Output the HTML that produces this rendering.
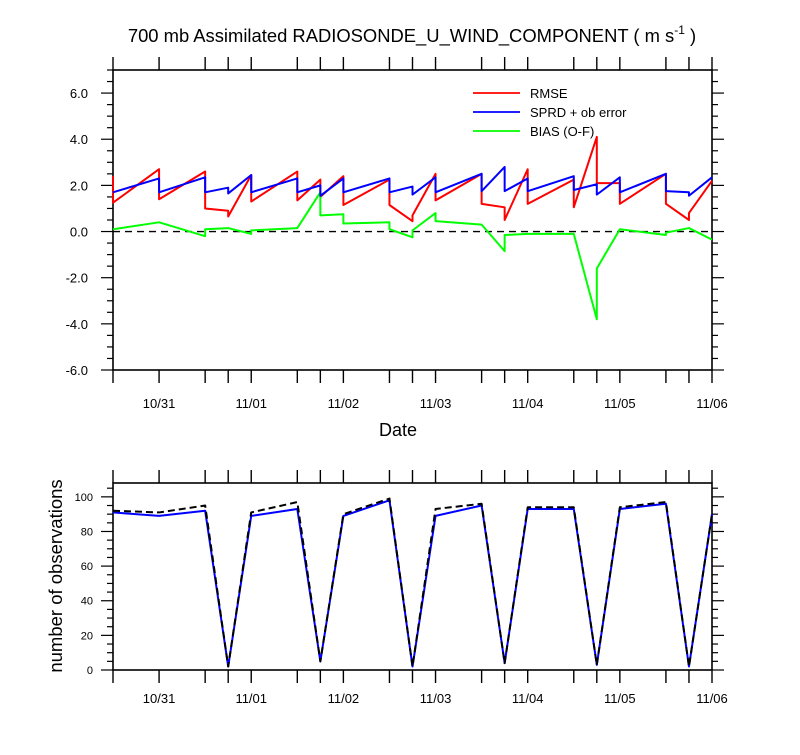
<!DOCTYPE html>
<html><head><meta charset="utf-8"><style>
body{margin:0;background:#fff}
svg text{font-family:"Liberation Sans",sans-serif;fill:#000}
</style></head><body>
<svg id="c" width="800" height="750" xmlns="http://www.w3.org/2000/svg"></svg>
<script>
// time points in hours since 10/30 12Z
const hours=[0,12,24,30,36,48,54,60,72,78,84,96,102,108,120,126,132,144,150,156];
const dateLabels=["10/31","11/01","11/02","11/03","11/04","11/05","11/06"];
const dateHours=[12,36,60,84,108,132,156];
const rmseArr=[2.4,2.7,2.6,0.9,2.45,2.6,2.25,2.4,2.25,0.45,2.5,2.5,1.05,2.7,2.25,4.1,2.1,2.5,0.5,2.2];
const rmseDep=[1.25,1.4,1.0,0.65,1.3,1.35,1.5,1.15,1.15,0.7,1.35,1.2,0.5,1.2,1.05,2.1,1.2,1.2,0.8,2.2];
const sprdArr=[1.7,2.3,2.35,1.9,2.45,2.3,2.0,2.3,2.3,1.95,2.35,2.5,2.8,2.3,2.4,2.05,2.35,2.5,1.7,2.35];
const sprdDep=[1.7,1.7,1.7,1.65,1.7,1.7,1.55,1.7,1.7,1.6,1.7,1.75,1.75,1.75,1.8,1.6,1.7,1.75,1.55,2.35];
const biasArr=[0.1,0.4,-0.2,0.15,-0.1,0.15,1.7,0.75,0.4,-0.25,0.8,0.3,-0.85,-0.1,-0.1,-3.8,0.1,-0.15,0.15,-0.35];
const biasDep=[0.1,0.4,0.1,0.15,0.05,0.15,0.7,0.35,0.1,0.05,0.45,0.3,-0.15,-0.1,-0.1,-1.6,0.1,-0.05,0.15,-0.35];
const obsTotal=[92,91,95,2,91,97,5,90,99,2,93,96,4,94,94,3,94,97,2,90];
const obsUsed=[91,89,92,2,89,93,5,89,98,2,89,95,4,93,93,3,93,96,2,90];
const yTicksTop=[-6,-4,-2,0,2,4,6];
const yTicksBot=[0,20,40,60,80,100];

const svg=document.getElementById('c');
const NS="http://www.w3.org/2000/svg";
function el(t,a,p){const e=document.createElementNS(NS,t);for(const k in a)e.setAttribute(k,a[k]);(p||svg).appendChild(e);return e;}
const X0=113,X1=712,H=156;
const xs=h=>X0+(X1-X0)*h/H;
const T0=70,T1=370,yt=v=>T1-(v+6)/13*(T1-T0);
const B0=483,B1=670,yb=v=>B1-v/108*(B1-B0);

let t=el('text',{x:412,y:42,'text-anchor':'middle','font-size':18.4});

t.innerHTML='700 mb Assimilated RADIOSONDE_U_WIND_COMPONENT ( m s<tspan font-size="12" dy="-8">-1</tspan><tspan dy="8"> )</tspan>';

function frame(y0,y1,name){
  const r=el('rect',{x:X0,y:y0,width:X1-X0,height:y1-y0,fill:'none',stroke:'#000','stroke-width':1.6});
  
  hours.forEach(h=>{const x=xs(h);
    el('line',{x1:x,x2:x,y1:y1,y2:y1+13,stroke:'#000','stroke-width':1.4});
    el('line',{x1:x,x2:x,y1:y0,y2:y0-13,stroke:'#000','stroke-width':1.4});});
}
frame(T0,T1,'top-plot-frame');frame(B0,B1,'bottom-plot-frame');
for(let v=-6;v<=7.001;v+=0.5){const y=yt(v);const maj=Math.abs(v%2)<1e-6;const L=maj?12:6;
  el('line',{x1:X0-L,x2:X0,y1:y,y2:y,stroke:'#000','stroke-width':1.2});
  el('line',{x1:X1,x2:X1+L,y1:y,y2:y,stroke:'#000','stroke-width':1.2});}
yTicksTop.forEach(v=>{const e=el('text',{x:88,y:yt(v)+5,'text-anchor':'end','font-size':13});e.textContent=v.toFixed(1);
  });
for(let v=0;v<=105;v+=5){const y=yb(v);const maj=v%20===0;const L=maj?12:6;
  el('line',{x1:X0-L,x2:X0,y1:y,y2:y,stroke:'#000','stroke-width':1.2});
  el('line',{x1:X1,x2:X1+L,y1:y,y2:y,stroke:'#000','stroke-width':1.2});}
yTicksBot.forEach(v=>{const e=el('text',{x:93,y:yb(v)+4,'text-anchor':'end','font-size':11});e.textContent=v;
  });
dateHours.forEach((h,i)=>{[408,703].forEach(y=>{const e=el('text',{x:xs(h),y:y,'text-anchor':'middle','font-size':13});e.textContent=dateLabels[i];
  });});
t=el('text',{x:398,y:436,'text-anchor':'middle','font-size':18});t.textContent='Date';

t=el('text',{x:62,y:576,'text-anchor':'middle','font-size':18.5,transform:'rotate(-90 62 576)'});t.textContent='number of observations';


let z=el('line',{x1:X0,x2:X1,y1:yt(0),y2:yt(0),stroke:'#000','stroke-width':1.4,'stroke-dasharray':'7,5'});


function sawPath(arr,dep){let d='';hours.forEach((h,i)=>{const x=xs(h);
  d+=(i?'L':'M')+x+','+yt(arr[i])+'L'+x+','+yt(dep[i]);});return d;}
function addPath(d,col,name,dash){const p=el('path',{d:d,fill:'none',stroke:col,'stroke-width':2,'stroke-linejoin':'round'});
  if(dash)p.setAttribute('stroke-dasharray',dash);
  }
addPath(sawPath(rmseArr,rmseDep),'#ff0000','rmse-line');
addPath(sawPath(biasArr,biasDep),'#00ff00','bias-line');
addPath(sawPath(sprdArr,sprdDep),'#0000ff','sprd-line');

function obsPath(v){return hours.map((h,i)=>(i?'L':'M')+xs(h)+','+yb(v[i])).join('');}
addPath(obsPath(obsUsed),'#0000ff','obs-used-line');
addPath(obsPath(obsTotal),'#000','obs-total-line','7,4');

const legNames=['RMSE','SPRD + ob error','BIAS (O-F)'],legCols=['#ff0000','#0000ff','#00ff00'];
legNames.forEach((n,i)=>{const y=93+i*19;
  const g=el('g',{});
  el('line',{x1:473,x2:520,y1:y,y2:y,stroke:legCols[i],'stroke-width':1.8},g);
  const e=el('text',{x:530,y:y+5,'font-size':13},g);e.textContent=n;});
</script>
</body></html>
